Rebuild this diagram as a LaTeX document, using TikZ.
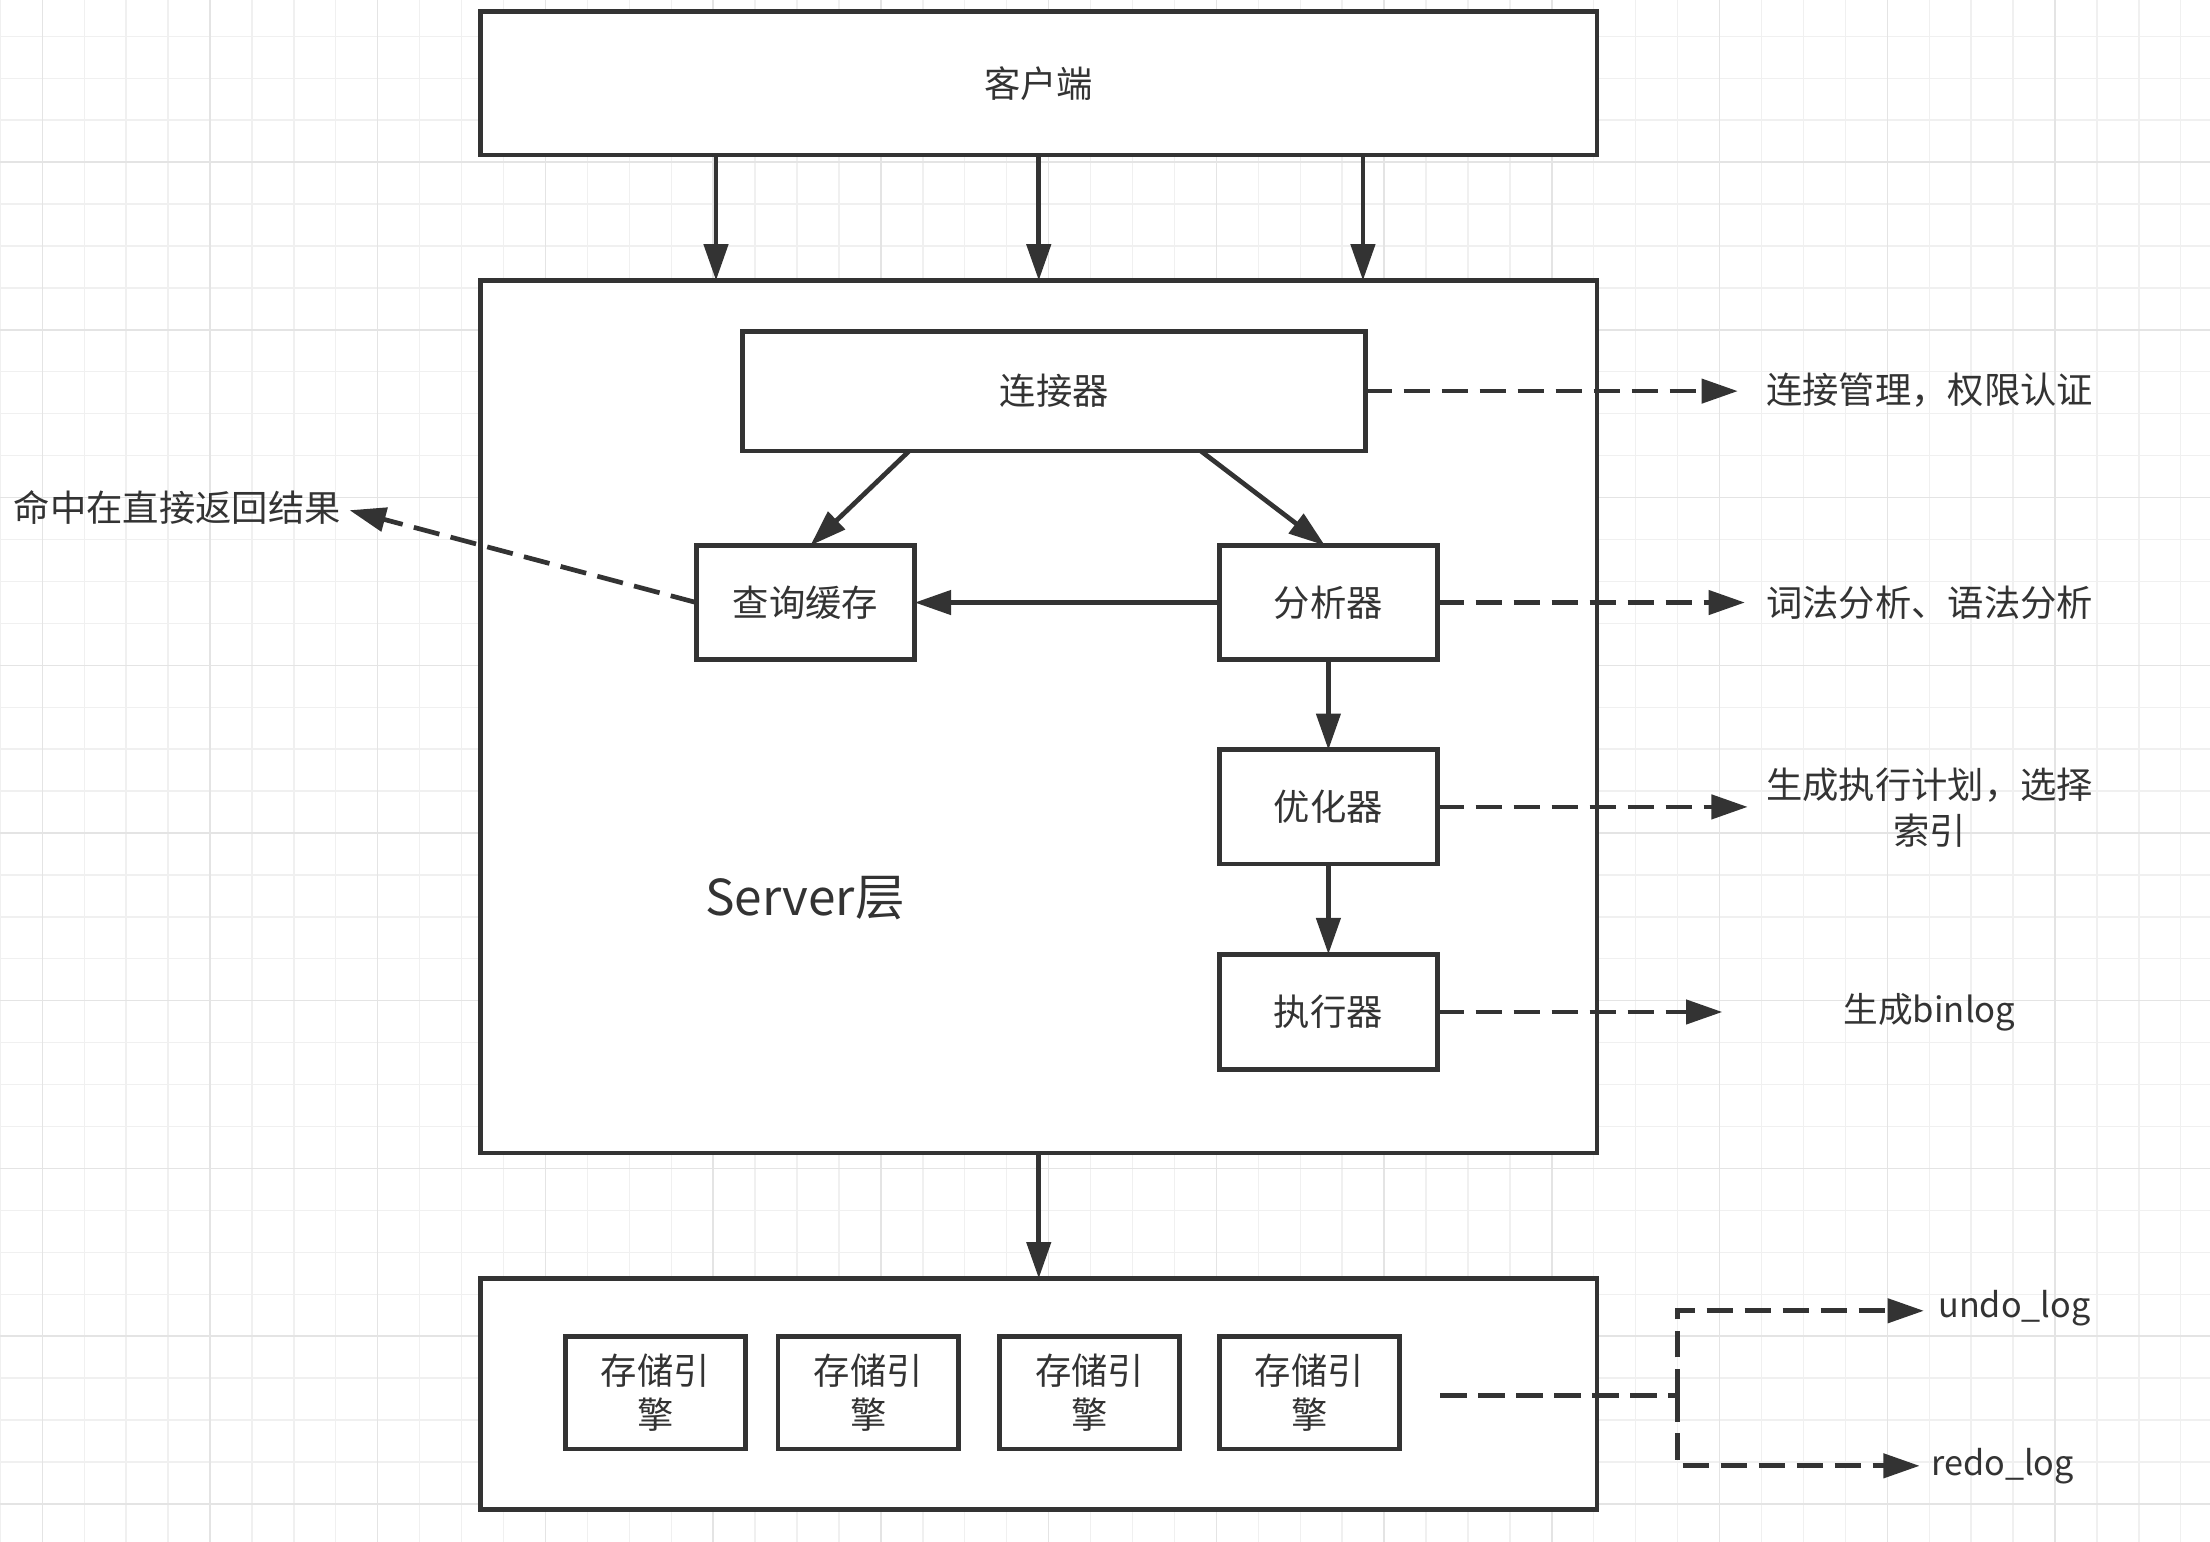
\documentclass[tikz,border=0pt]{standalone}
\usepackage{fontspec}
\setmainfont{Noto Sans CJK SC}
\usetikzlibrary{arrows.meta,calc}
\definecolor{ink}{HTML}{333333}
\definecolor{gridminor}{HTML}{F0F0F0}
\definecolor{gridmajor}{HTML}{E4E4E4}
\newdimen\pxu \pxu=0.03cm
\begin{document}
\begin{tikzpicture}[x=0.03cm,y=-0.03cm,
  box/.style={draw=ink, line width=2.85pt, fill=white, inner sep=0pt, outer sep=0pt, align=center, font=\fontsize{22}{27}\selectfont, text=ink},
  arr/.style={draw=ink, line width=2.85pt, -{Triangle[length=22pt,width=14.5pt]}},
  darr/.style={arr, dash pattern=on 16pt off 7pt},
  dline/.style={draw=ink, line width=2.85pt, dash pattern=on 16pt off 7pt},
  lab/.style={font=\fontsize{22}{28}\selectfont, text=ink, align=center, inner sep=0pt},
  gmin/.style={draw=gridminor, line width=0.8pt},
  gmaj/.style={draw=gridmajor, line width=0.9pt},
]
\useasboundingbox (0,0) rectangle (1568,1094);
\fill[white] (0,0) rectangle (1568,1094);
% grid
\foreach \k in {0,...,52} { \draw[gmin] ({0.25+29.75*\k},0) -- ({0.25+29.75*\k},1094); }
\foreach \k in {1,...,37} { \draw[gmin] (0,{-4+29.75*\k}) -- (1568,{-4+29.75*\k}); }
\foreach \k in {0,...,13} { \draw[gmaj] ({30+119*\k},0) -- ({30+119*\k},1094); }
\foreach \k in {1,...,9} { \draw[gmaj] (0,{-4+119*\k}) -- (1568,{-4+119*\k}); }

% boxes
\node[box, minimum width=792\pxu, minimum height=102\pxu] (client) at (737,59) {客户端};
\node[box, minimum width=792\pxu, minimum height=619\pxu] (server) at (737,508.5) {};
\node[box, minimum width=792\pxu, minimum height=164\pxu] (storage) at (737,989) {};
\node[box, minimum width=442\pxu, minimum height=85\pxu] (conn) at (748,277.5) {连接器};
\node[box, minimum width=155\pxu, minimum height=81\pxu] (cache) at (571.5,427.5) {查询缓存};
\node[box, minimum width=155\pxu, minimum height=81\pxu] (an) at (942.5,427.5) {分析器};
\node[box, minimum width=155\pxu, minimum height=81\pxu] (opt) at (942.5,572.5) {优化器};
\node[box, minimum width=155\pxu, minimum height=82\pxu] (exe) at (942.5,718) {执行器};
\node[box, minimum width=128\pxu, minimum height=80\pxu] (e1) at (465,988) {存储引\\擎};
\node[box, minimum width=128\pxu, minimum height=80\pxu] (e2) at (616,988) {存储引\\擎};
\node[box, minimum width=128\pxu, minimum height=80\pxu] (e3) at (773,988) {存储引\\擎};
\node[box, minimum width=128\pxu, minimum height=80\pxu] (e4) at (929,988) {存储引\\擎};

% labels
\node[lab, font=\fontsize{30}{36}\selectfont] (srv) at (571,637) {Server层};
\node[lab] (l1) at (1369,277) {连接管理，权限认证};
\node[lab] (l2) at (1369,428) {词法分析、语法分析};
\node[lab] (l3) at (1369,573) {生成执行计划，选择\\索引};
\node[lab, font=\fontsize{21}{28}\selectfont] (l4) at (1369,718) {生成binlog};
\node[lab, anchor=east] (l5) at (242,360) {命中在直接返回结果};
\node[lab, anchor=west, font=\fontsize{20.7}{28}\selectfont] (l6) at (1375,928) {undo\_log};
\node[lab, anchor=west, font=\fontsize{20.7}{28}\selectfont] (l7) at (1370,1040) {redo\_log};

% helper coordinates
\coordinate (a1) at (508,0);
\coordinate (a3) at (967,0);
\coordinate (p1) at (645,0);
\coordinate (q1) at (575,0);
\coordinate (p2) at (852,0);
\coordinate (q2) at (940,0);
\coordinate (t1) at (1233,277.5);
\coordinate (t2) at (1238,427.5);
\coordinate (t3) at (1240,572.5);
\coordinate (t4) at (1222,718);
\coordinate (t5) at (248,362);
\coordinate (s0) at (1022,990);
\coordinate (j) at (1190,990);
\coordinate (tu) at (1365,930);
\coordinate (tr) at (1362,1040);

% solid arrows
\draw[arr] (client.south -| a1) -- (server.north -| a1);
\draw[arr] (client.south) -- (server.north);
\draw[arr] (client.south -| a3) -- (server.north -| a3);
\draw[arr] (conn.south -| p1) -- (cache.north -| q1);
\draw[arr] (conn.south -| p2) -- (an.north -| q2);
\draw[arr] (an.west) -- (cache.east);
\draw[arr] (an.south) -- (opt.north);
\draw[arr] (opt.south) -- (exe.north);
\draw[arr] (server.south) -- (storage.north);

% dashed arrows
\draw[darr] (conn.east) -- (t1);
\draw[darr] (an.east) -- (t2);
\draw[darr] (opt.east) -- (t3);
\draw[darr] (exe.east) -- (t4);
\draw[darr] (cache.west) -- (t5);
\draw[dline] (s0) -- (j);
\draw[darr] (j) |- (tu);
\draw[darr] (j) |- (tr);
\end{tikzpicture}
\end{document}
